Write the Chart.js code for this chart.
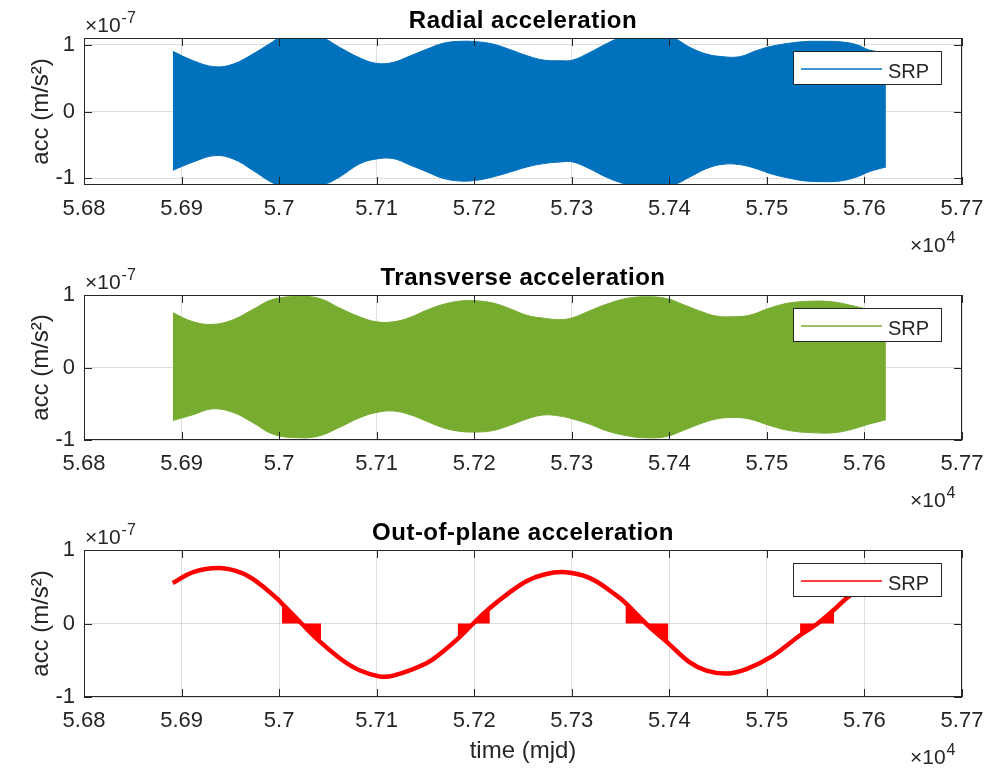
<!DOCTYPE html>
<html>
<head>
<meta charset="utf-8">
<title>SRP accelerations</title>
<script src="https://cdn.jsdelivr.net/npm/chart.js@4.4.1/dist/chart.umd.min.js"></script>
<style>
  html, body { margin: 0; padding: 0; background: #ffffff; }
  #fig { position: relative; width: 987px; height: 768px; overflow: hidden; background: #ffffff; }
  #fig canvas { position: absolute; left: 0; }
</style>
</head>
<body>
<div id="fig">
  <canvas id="radial" width="987" height="258" style="top:0px"></canvas>
  <canvas id="transverse" width="987" height="255" style="top:258px"></canvas>
  <canvas id="outofplane" width="987" height="255" style="top:513px"></canvas>
</div>
<script>
// ---- axis ticks -----------------------------------------------------------
const xTickValues = [56800, 56900, 57000, 57100, 57200, 57300, 57400, 57500, 57600, 57700]; // MJD
const yTickValues = [-1, 0, 1];                                                              // x 1e-7 m/s^2

// ---- radial SRP acceleration: envelope of the fast orbital oscillation (x 1e-7 m/s^2) ----
const radialTime = [56891, 56912, 56934, 56953, 56973, 56991, 57000, 57022, 57045, 57062,
                    57083, 57100, 57117, 57134, 57151, 57168, 57185, 57202, 57219, 57236,
                    57254, 57271, 57288, 57301, 57318, 57335, 57349, 57376, 57404, 57421,
                    57438, 57455, 57472, 57489, 57506, 57527, 57540, 57557, 57575, 57592,
                    57605, 57622];
const radialUpper = [0.90, 0.76, 0.67, 0.71, 0.86, 1.02, 1.10, 1.17, 1.10, 0.96,
                     0.80, 0.72, 0.735, 0.83, 0.93, 1.02, 1.05, 1.045, 1.01, 0.93,
                     0.835, 0.77, 0.76, 0.77, 0.88, 1.01, 1.10, 1.17, 1.10, 0.96,
                     0.86, 0.82, 0.82, 0.91, 0.98, 1.03, 1.048, 1.05, 1.043, 1.0,
                     0.92, 0.88];
const radialLower = [-0.88, -0.755, -0.66, -0.71, -0.88, -1.05, -1.10, -1.17, -1.10, -0.98,
                     -0.78, -0.71, -0.705, -0.80, -0.90, -1.0, -1.04, -1.03, -0.98, -0.91,
                     -0.83, -0.78, -0.755, -0.755, -0.855, -0.98, -1.06, -1.17, -1.10, -0.98,
                     -0.855, -0.79, -0.795, -0.855, -0.94, -1.01, -1.04, -1.05, -1.04, -0.98,
                     -0.90, -0.83];

// ---- transverse SRP acceleration envelope (x 1e-7 m/s^2) ----
const transTime = [56891, 56912, 56932, 56953, 56973, 56994, 57021, 57042, 57062, 57083,
                   57100, 57117, 57134, 57151, 57168, 57185, 57202, 57219, 57236, 57254,
                   57271, 57288, 57301, 57318, 57335, 57356, 57376, 57397, 57414, 57431,
                   57448, 57465, 57482, 57503, 57523, 57547, 57568, 57585, 57605, 57622];
const transUpper = [0.755, 0.63, 0.595, 0.66, 0.80, 0.94, 0.98, 0.95, 0.82, 0.696,
                    0.63, 0.63, 0.69, 0.79, 0.87, 0.915, 0.92, 0.89, 0.815, 0.72,
                    0.68, 0.66, 0.687, 0.78, 0.87, 0.952, 0.975, 0.952, 0.87, 0.78,
                    0.71, 0.70, 0.72, 0.82, 0.89, 0.915, 0.905, 0.86, 0.80, 0.76];
const transLower = [-0.73, -0.65, -0.57, -0.62, -0.76, -0.92, -0.97, -0.94, -0.825, -0.69,
                    -0.62, -0.60, -0.65, -0.74, -0.83, -0.88, -0.89, -0.87, -0.80, -0.71,
                    -0.655, -0.67, -0.71, -0.78, -0.87, -0.94, -0.97, -0.953, -0.87, -0.78,
                    -0.71, -0.69, -0.71, -0.80, -0.87, -0.90, -0.90, -0.86, -0.78, -0.72];

// ---- out-of-plane SRP acceleration (x 1e-7 m/s^2) ----
const oopTime = [56891, 56912, 56939, 56962, 56979, 56997, 57003, 57023, 57043, 57065,
                 57083, 57103, 57117, 57151, 57168, 57183, 57199, 57216, 57236, 57254,
                 57270, 57291, 57318, 57346, 57355, 57376, 57399, 57421, 57438, 57459,
                 57479, 57506, 57534, 57552, 57569, 57586, 57605, 57622];
const oopValue = [0.55, 0.70, 0.755, 0.686, 0.55, 0.35, 0.27, 0.0, -0.26, -0.50,
                  -0.64, -0.72, -0.71, -0.54, -0.38, -0.21, 0.0, 0.21, 0.42, 0.578,
                  0.66, 0.70, 0.62, 0.38, 0.28, 0.0, -0.27, -0.53, -0.64, -0.68,
                  -0.62, -0.44, -0.16, 0.0, 0.19, 0.39, 0.52, 0.60];

// eclipse seasons: the acceleration drops to zero inside the shadow
const eclipseStart = [57003, 57183, 57355, 57534];
const eclipseEnd   = [57043, 57216, 57399, 57569];

// ---- styling --------------------------------------------------------------
const FONT = '"Liberation Sans", Arial, Helvetica, sans-serif';
const INK = '#262626';
const GRID = 'rgba(38,38,38,0.15)';
const BLUE = '#0072BD', GREEN = '#77AC30', RED = '#FF0000';
const TICK_LEN = 8;

const pts = (t, v) => t.map((x, i) => ({ x: x, y: v[i] }));
const fmtX = v => String(parseFloat((v / 1e4).toFixed(4)));

function bandDatasets(label, color, time, upper, lower) {
  return [
    { label: label, data: pts(time, upper), borderColor: color, backgroundColor: color,
      borderWidth: 1, fill: '+1', tension: 0.4, pointRadius: 0 },
    { label: label + ' lower', data: pts(time, lower), borderColor: color, backgroundColor: color,
      borderWidth: 1, fill: false, tension: 0.4, pointRadius: 0 }
  ];
}

function eclipseDatasets(color) {
  return eclipseStart.map((s, k) => ({
    label: 'eclipse ' + (k + 1),
    data: pts(oopTime, oopValue).filter(p => p.x >= s && p.x <= eclipseEnd[k]),
    borderWidth: 0, borderColor: color, backgroundColor: color,
    fill: 'origin', tension: 0, pointRadius: 0
  }));
}

// frame, inward ticks, title, exponent labels and legend box
function framePlugin(p) {
  return {
    id: 'frame',
    afterDraw(chart) {
      const ctx = chart.ctx, a = chart.chartArea;
      const xs = chart.scales.x, ys = chart.scales.y;
      ctx.save();
      ctx.strokeStyle = INK;
      ctx.lineWidth = 1;
      ctx.beginPath();
      xs.ticks.forEach(t => {
        const px = Math.round(xs.getPixelForValue(t.value)) + 0.5;
        ctx.moveTo(px, a.bottom); ctx.lineTo(px, a.bottom - TICK_LEN);
        ctx.moveTo(px, a.top); ctx.lineTo(px, a.top + TICK_LEN);
      });
      ys.ticks.forEach(t => {
        const py = Math.round(ys.getPixelForValue(t.value)) + 0.5;
        ctx.moveTo(a.left, py); ctx.lineTo(a.left + TICK_LEN, py);
        ctx.moveTo(a.right, py); ctx.lineTo(a.right - TICK_LEN, py);
      });
      ctx.stroke();
      ctx.strokeRect(a.left + 0.5, a.top + 0.5, a.right - a.left - 1, a.bottom - a.top - 1);

      // title
      ctx.fillStyle = '#000000';
      ctx.font = 'bold 24px ' + FONT;
      ctx.textAlign = 'center';
      ctx.textBaseline = 'alphabetic';
      if ('letterSpacing' in ctx) ctx.letterSpacing = '0.5px';
      ctx.fillText(p.title, (a.left + a.right) / 2, a.top - 10);
      if ('letterSpacing' in ctx) ctx.letterSpacing = '0px';

      // exponent multipliers
      ctx.fillStyle = INK;
      ctx.textAlign = 'left';
      const expo = (x, y, base, sup) => {
        ctx.font = '21px ' + FONT;
        ctx.fillText(base, x, y);
        const w = ctx.measureText(base).width;
        ctx.font = '16px ' + FONT;
        ctx.fillText(sup, x + w + 1, y - 9);
      };
      expo(a.left + 1, a.top - 6, '\u00d710', '-7');
      expo(a.right - 52, a.bottom + 67, '\u00d710', '4');

      // legend
      const lw = 149, lh = 34;
      const lx = a.right - 20 - lw, ly = a.top + 13;
      ctx.fillStyle = '#ffffff';
      ctx.fillRect(lx, ly, lw, lh);
      ctx.strokeStyle = INK;
      ctx.strokeRect(lx + 0.5, ly + 0.5, lw - 1, lh - 1);
      const ds = chart.data.datasets[0];
      ctx.strokeStyle = ds.borderColor;
      ctx.lineWidth = 1.3;
      ctx.beginPath();
      ctx.moveTo(lx + 8, ly + 18);
      ctx.lineTo(lx + 89, ly + 18);
      ctx.stroke();
      ctx.fillStyle = INK;
      ctx.font = '20px ' + FONT;
      ctx.fillText(ds.label, lx + 95, ly + 27);
      ctx.restore();
    }
  };
}

function makePanel(id, p) {
  return new Chart(document.getElementById(id), {
    type: 'line',
    data: { datasets: p.datasets },
    options: {
      responsive: false,
      animation: false,
      events: [],
      layout: { padding: { top: p.padTop, right: 25, bottom: 0, left: 0 } },
      plugins: { legend: { display: false }, tooltip: { enabled: false }, title: { display: false } },
      elements: { point: { radius: 0 } },
      scales: {
        x: {
          type: 'linear',
          min: 56800, max: 57700,
          afterFit: s => { s.height = p.xAxisHeight; s.paddingLeft = 0; s.paddingRight = 0; },
          afterBuildTicks: s => { s.ticks = xTickValues.map(v => ({ value: v })); },
          grid: { color: GRID, lineWidth: 1, drawTicks: false },
          border: { display: false },
          ticks: {
            autoSkip: false, maxRotation: 0, minRotation: 0, padding: 11,
            color: INK, font: { family: FONT, size: 22 },
            callback: v => fmtX(v)
          },
          title: p.xTitle ? {
            display: true, text: p.xTitle, color: INK,
            font: { family: FONT, size: 24 }, padding: { top: 0, bottom: 2 }
          } : { display: false }
        },
        y: {
          type: 'linear',
          min: p.yMin, max: p.yMax,
          afterFit: s => { s.width = 84; },
          afterBuildTicks: s => { s.ticks = yTickValues.map(v => ({ value: v })); },
          grid: { color: GRID, lineWidth: 1, drawTicks: false },
          border: { display: false },
          ticks: { padding: 9, color: INK, font: { family: FONT, size: 22 }, callback: v => String(v) },
          title: {
            display: true, text: 'acc (m/s\u00b2)', color: INK,
            font: { family: FONT, size: 24 }, padding: { top: 27, bottom: 0 }
          }
        }
      }
    },
    plugins: [framePlugin(p)]
  });
}

makePanel('radial', {
  title: 'Radial acceleration',
  padTop: 38, xAxisHeight: 73, yMin: -1.1, yMax: 1.1,
  datasets: bandDatasets('SRP', BLUE, radialTime, radialUpper, radialLower)
});

makePanel('transverse', {
  title: 'Transverse acceleration',
  padTop: 37, xAxisHeight: 73, yMin: -1, yMax: 1,
  datasets: bandDatasets('SRP', GREEN, transTime, transUpper, transLower)
});

makePanel('outofplane', {
  title: 'Out-of-plane acceleration',
  padTop: 37, xAxisHeight: 71, yMin: -1, yMax: 1,
  xTitle: 'time (mjd)',
  datasets: [
    { label: 'SRP', data: pts(oopTime, oopValue), borderColor: RED, backgroundColor: RED,
      borderWidth: 4.5, fill: false, tension: 0.4, pointRadius: 0 }
  ].concat(eclipseDatasets(RED))
});
</script>
</body>
</html>
